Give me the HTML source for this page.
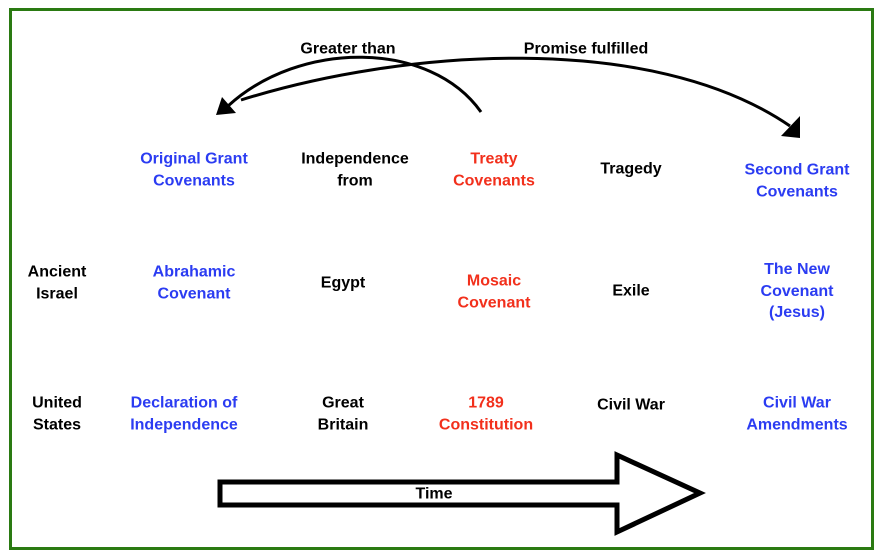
<!DOCTYPE html>
<html><head><style>
body{margin:0;width:879px;height:557px;background:#fff;position:relative;overflow:hidden;font-family:"Liberation Sans",Arial,sans-serif;font-weight:bold;font-size:16px}
.t{position:absolute;transform:translate(-50%,-50%);text-align:center;line-height:21.5px;white-space:nowrap;color:#000}
.b{color:#2b3cf2}.r{color:#f2301c}
#frame{position:absolute;left:9px;top:8px;width:859px;height:536px;border:3px solid #2a7a12}
</style></head><body>
<div id="frame"></div>
<svg width="879" height="557" style="position:absolute;left:0;top:0">
<path d="M481,112 C430,40 300,40 228,106" fill="none" stroke="#000" stroke-width="3"/>
<polygon points="216,115 236,113 222,97" fill="#000"/>
<path d="M241,100 C400,50 650,30 790,126" fill="none" stroke="#000" stroke-width="3"/>
<polygon points="800,138 781,136 800,116" fill="#000"/>
<polygon points="220,482 617,482 617,455 700,493 617,532 617,505 220,505" fill="#fff" stroke="#000" stroke-width="5"/>
</svg>
<div class="t" style="left:348px;top:49px">Greater than</div>
<div class="t" style="left:586px;top:49px">Promise fulfilled</div>
<div class="t" style="left:434px;top:494px">Time</div>

<div class="t b" style="left:194px;top:170px">Original Grant<br>Covenants</div>
<div class="t" style="left:355px;top:170px">Independence<br>from</div>
<div class="t r" style="left:494px;top:170px">Treaty<br>Covenants</div>
<div class="t" style="left:631px;top:169px">Tragedy</div>
<div class="t b" style="left:797px;top:181px">Second Grant<br>Covenants</div>

<div class="t" style="left:57px;top:283px">Ancient<br>Israel</div>
<div class="t b" style="left:194px;top:283px">Abrahamic<br>Covenant</div>
<div class="t" style="left:343px;top:283px">Egypt</div>
<div class="t r" style="left:494px;top:292px">Mosaic<br>Covenant</div>
<div class="t" style="left:631px;top:291px">Exile</div>
<div class="t b" style="left:797px;top:291px">The New<br>Covenant<br>(Jesus)</div>

<div class="t" style="left:57px;top:414px">United<br>States</div>
<div class="t b" style="left:184px;top:414px">Declaration of<br>Independence</div>
<div class="t" style="left:343px;top:414px">Great<br>Britain</div>
<div class="t r" style="left:486px;top:414px">1789<br>Constitution</div>
<div class="t" style="left:631px;top:405px">Civil War</div>
<div class="t b" style="left:797px;top:414px">Civil War<br>Amendments</div>
</body></html>
